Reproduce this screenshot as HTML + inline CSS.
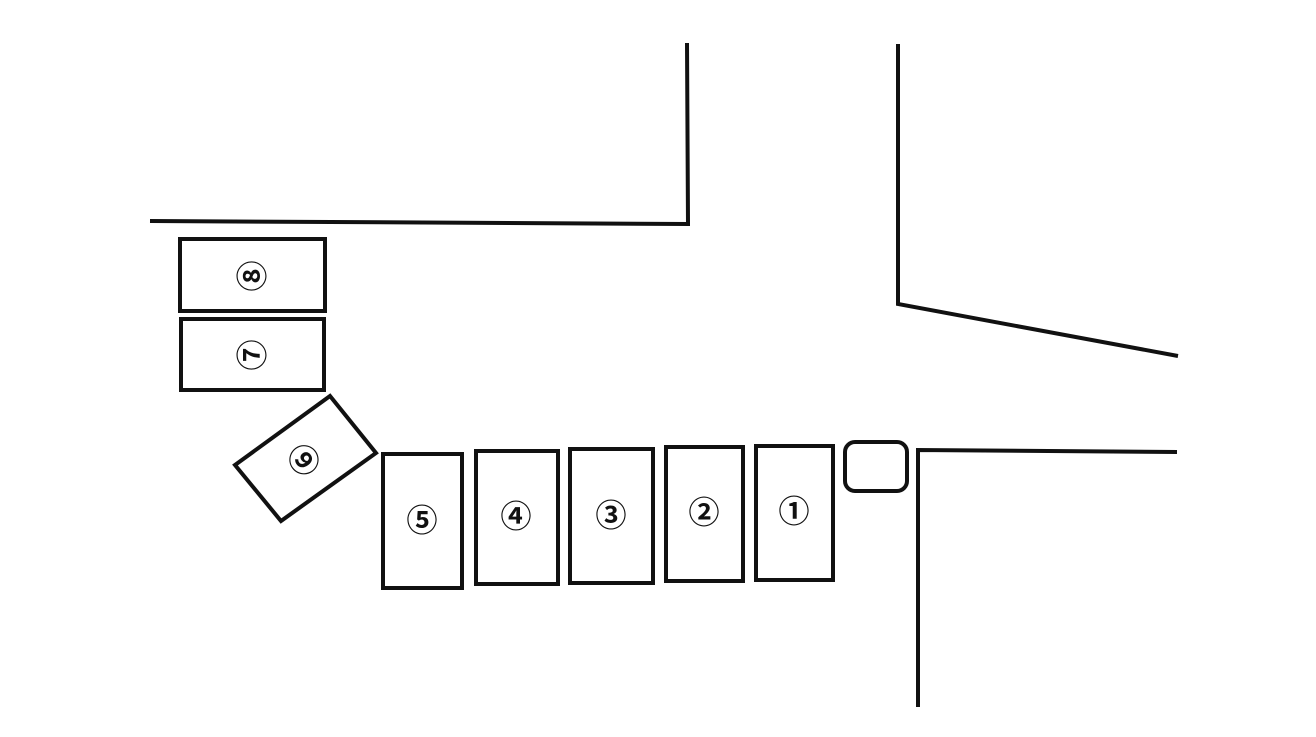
<!DOCTYPE html>
<html><head><style>body{margin:0;background:#fff}svg{display:block}</style></head><body>
<svg width="1316" height="737" viewBox="0 0 1316 737" xmlns="http://www.w3.org/2000/svg">
<g fill="none" stroke="#111" stroke-width="4">
<polyline points="150,221 688,224 687,43"/>
<polyline points="898,44 898,304 1178,356"/>
<polyline points="1177,452 918,450 918,707"/>
<rect x="845" y="442" width="62" height="49" rx="10"/>
<rect x="180" y="239" width="145" height="72"/>
<rect x="181" y="319" width="143" height="71"/>
<polygon points="235,465 330,396 376,453 281,521"/>
<rect x="383" y="454" width="79" height="134"/>
<rect x="476" y="451" width="82" height="133"/>
<rect x="570" y="449" width="83" height="134"/>
<rect x="666" y="447" width="77" height="134"/>
<rect x="756" y="446" width="77" height="134"/>
</g>
<g font-family="'Liberation Sans','Noto Sans CJK JP',sans-serif" font-size="31" font-weight="bold" text-anchor="middle" dominant-baseline="central" fill="#111">
<text transform="translate(253,276) rotate(-90)">⑧</text>
<text transform="translate(253,355) rotate(-90)">⑦</text>
<text transform="translate(305,459) rotate(-126)">⑥</text>
<text x="422" y="521">⑤</text>
<text x="516" y="517">④</text>
<text x="611" y="516">③</text>
<text x="704" y="513">②</text>
<text x="794" y="512">①</text>
</g>
</svg>
</body></html>
